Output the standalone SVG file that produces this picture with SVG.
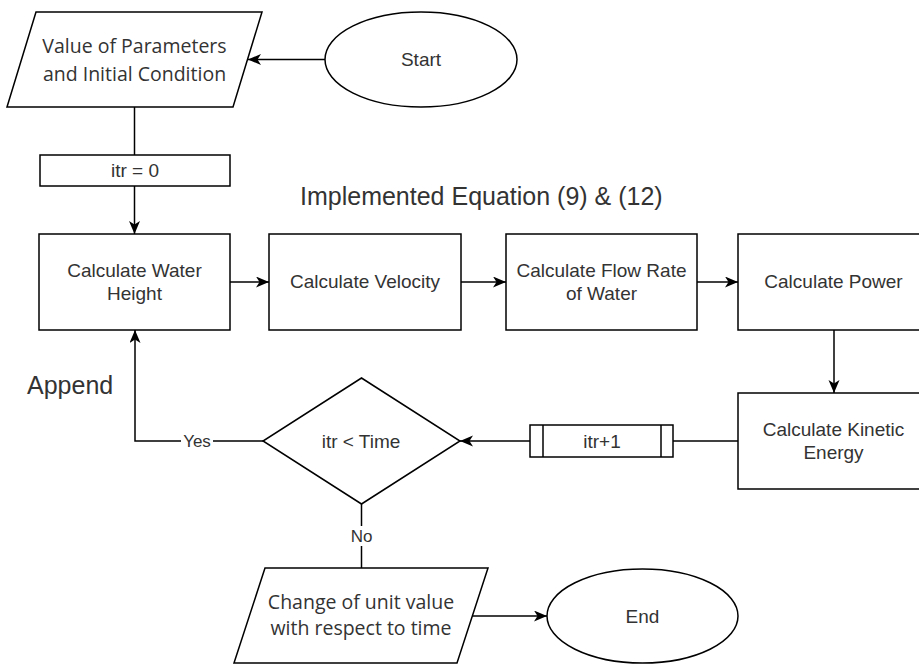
<svg xmlns="http://www.w3.org/2000/svg" width="919" height="664" viewBox="0 0 919 664">
<defs>
<marker id="arr" markerUnits="userSpaceOnUse" markerWidth="14" markerHeight="12" refX="13" refY="5.5" orient="auto">
<path d="M0,0 L13,5.5 L0,11 L3.5,5.5 z" fill="#000"/>
</marker>
<style>
.shape{fill:#fff;stroke:#000;stroke-width:1.5}
.conn{fill:none;stroke:#000;stroke-width:1.5}
.t{font-family:"Liberation Sans",Arial,sans-serif;font-size:19px;fill:#333;text-anchor:middle}
.o{font-family:"Open Sans","Noto Sans",sans-serif;font-size:19.5px;fill:#333;text-anchor:middle}
.big{font-family:"Liberation Sans",Arial,sans-serif;font-size:25px;fill:#333}
.lbl{font-family:"Liberation Sans",Arial,sans-serif;font-size:17px;fill:#333;text-anchor:middle}
</style>
</defs>
<rect width="919" height="664" fill="#fff"/>

<g id="connectors">
<line class="conn" x1="325" y1="59.5" x2="248" y2="59.5" marker-end="url(#arr)"/>
<line class="conn" x1="134.5" y1="107" x2="134.5" y2="155"/>
<line class="conn" x1="134.5" y1="186" x2="134.5" y2="234" marker-end="url(#arr)"/>
<line class="conn" x1="230" y1="282" x2="269" y2="282" marker-end="url(#arr)"/>
<line class="conn" x1="461" y1="282" x2="506" y2="282" marker-end="url(#arr)"/>
<line class="conn" x1="697" y1="282" x2="738" y2="282" marker-end="url(#arr)"/>
<line class="conn" x1="834" y1="330" x2="834" y2="393" marker-end="url(#arr)"/>
<line class="conn" x1="738" y1="441" x2="673" y2="441"/>
<line class="conn" x1="530" y1="441" x2="460" y2="441" marker-end="url(#arr)"/>
<polyline class="conn" points="263,441 135,441 135,330" marker-end="url(#arr)"/>
<line class="conn" x1="361.5" y1="504" x2="361.5" y2="568"/>
<line class="conn" x1="472" y1="616" x2="547" y2="616" marker-end="url(#arr)"/>
<rect x="181" y="432" width="32" height="18" fill="#fff"/>
<text class="lbl" x="197" y="447">Yes</text>
<rect x="348" y="526" width="27" height="20" fill="#fff"/>
<text class="lbl" x="361.5" y="542">No</text>
</g>

<g id="start">
<ellipse class="shape" cx="421" cy="59.5" rx="96" ry="47.5"/>
<text class="t" x="421" y="66">Start</text>
</g>

<g id="params">
<polygon class="shape" points="36,12 262,12 233,107 7,107"/>
<text class="o" x="134.5" y="53">Value of Parameters</text>
<text class="o" x="134.5" y="81">and Initial Condition</text>
</g>

<g id="itr0">
<rect class="shape" x="40" y="155" width="190" height="31"/>
<text class="t" x="135" y="177">itr = 0</text>
</g>

<g id="water-height">
<rect class="shape" x="39" y="234" width="191" height="96"/>
<text class="t" x="134.5" y="277">Calculate Water</text>
<text class="t" x="134.5" y="300">Height</text>
</g>

<g id="velocity">
<rect class="shape" x="269" y="234" width="192" height="96"/>
<text class="t" x="365" y="288">Calculate Velocity</text>
</g>

<g id="flow-rate">
<rect class="shape" x="506" y="234" width="191" height="96"/>
<text class="t" x="601.5" y="277">Calculate Flow Rate</text>
<text class="t" x="601.5" y="300">of Water</text>
</g>

<g id="power">
<rect class="shape" x="738" y="234" width="191" height="96"/>
<text class="t" x="833.5" y="288">Calculate Power</text>
</g>

<g id="kinetic">
<rect class="shape" x="738" y="393" width="191" height="96"/>
<text class="t" x="833.5" y="436">Calculate Kinetic</text>
<text class="t" x="833.5" y="459">Energy</text>
</g>

<g id="itr-plus">
<rect class="shape" x="530" y="425" width="143" height="32"/>
<line class="conn" x1="543" y1="425" x2="543" y2="457"/>
<line class="conn" x1="661" y1="425" x2="661" y2="457"/>
<text class="t" x="602" y="448">itr+1</text>
</g>

<g id="decision">
<polygon class="shape" points="361.5,378 460,441 361.5,504 263,441"/>
<text class="t" x="361" y="448">itr &lt; Time</text>
</g>

<g id="output">
<polygon class="shape" points="265,568 488,568 457,663 234,663"/>
<text class="o" x="361" y="609">Change of unit value</text>
<text class="o" x="361" y="635">with respect to time</text>
</g>

<g id="end">
<ellipse class="shape" cx="642.5" cy="616" rx="95.5" ry="47"/>
<text class="t" x="642.5" y="623">End</text>
</g>

<g id="annotations">
<text class="big" x="300" y="205">Implemented Equation (9) &amp; (12)</text>
<text class="big" x="27" y="394">Append</text>
</g>
</svg>
